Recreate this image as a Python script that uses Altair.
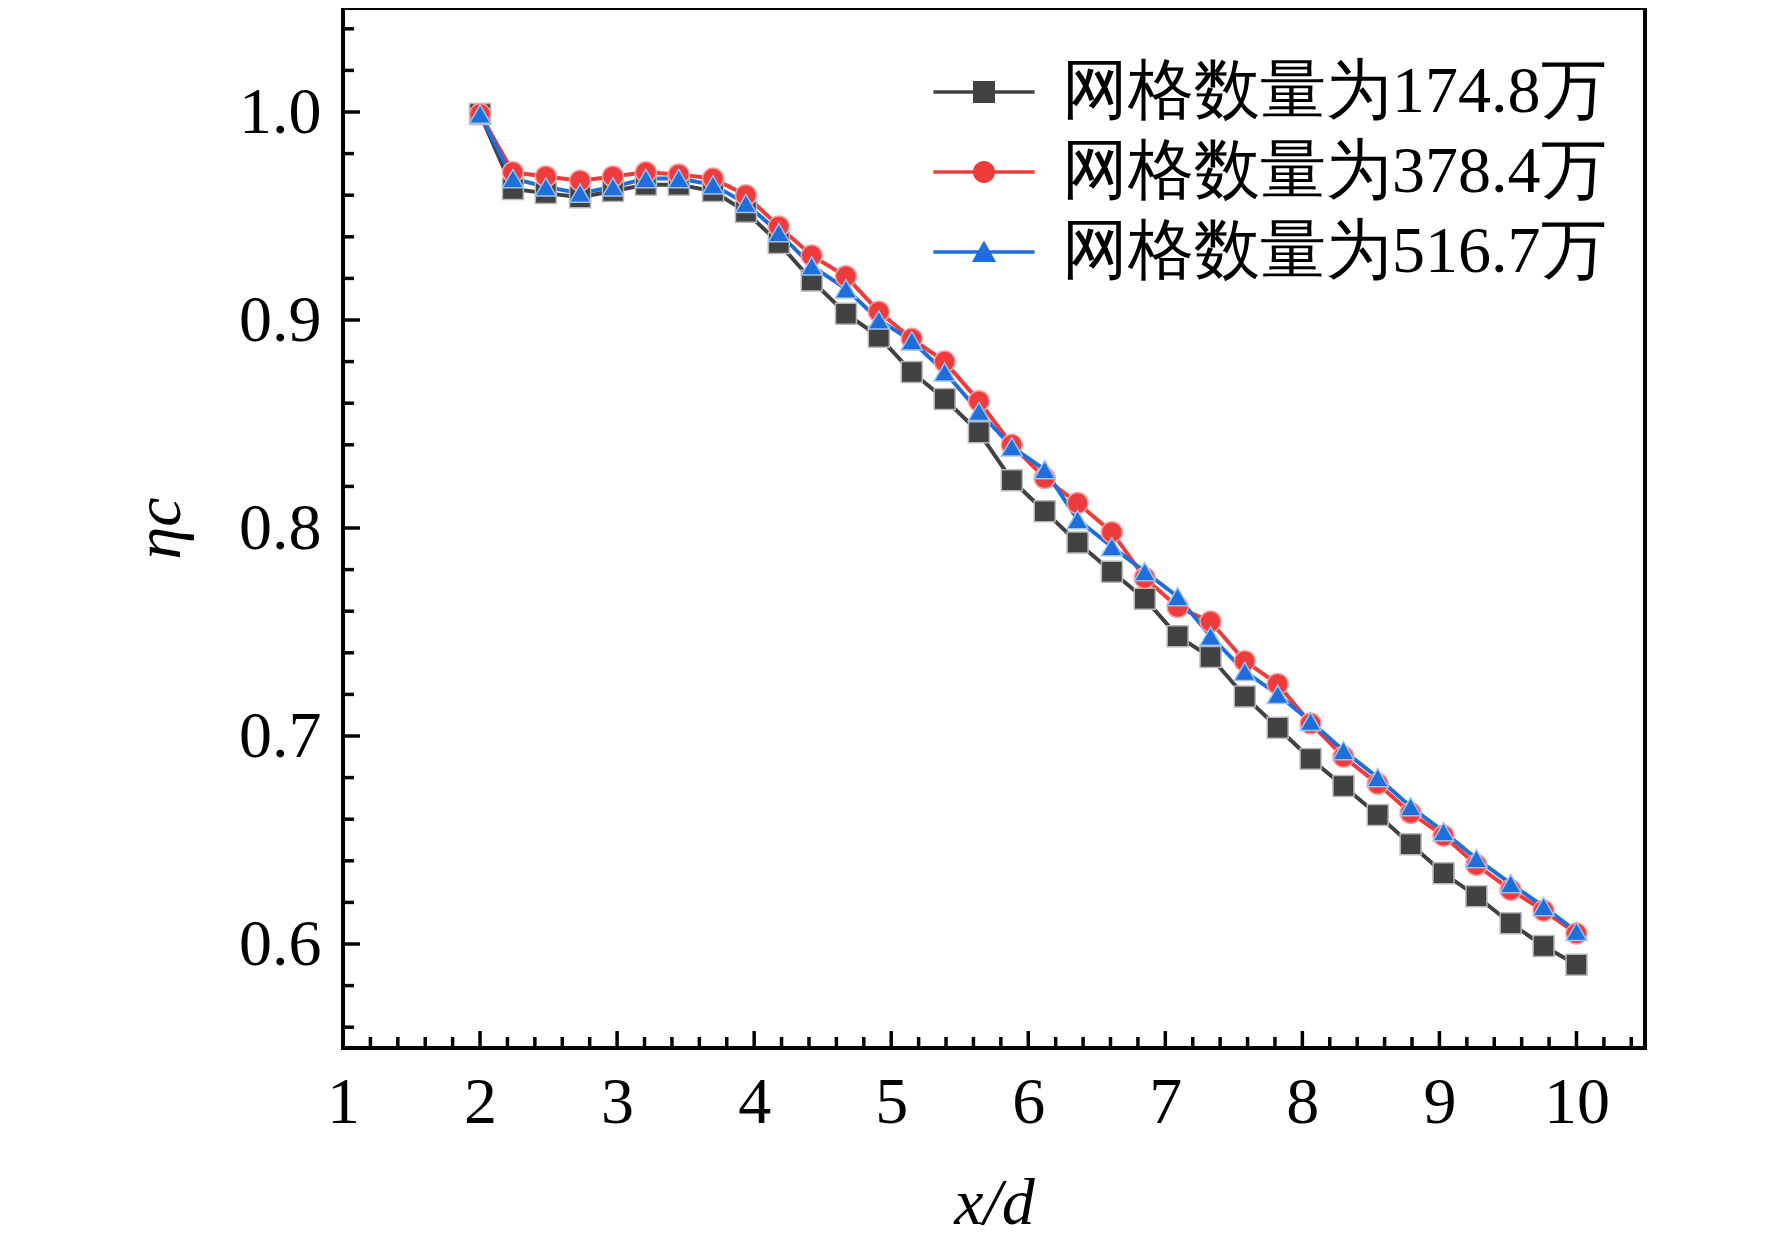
import altair as alt
import pandas as pd

# ---------------- data ----------------
x_pos = [2.00, 2.24, 2.48, 2.73, 2.97, 3.21, 3.45, 3.70, 3.94, 4.18, 4.42, 4.67,
         4.91, 5.15, 5.39, 5.64, 5.88, 6.12, 6.36, 6.61, 6.85, 7.09, 7.33, 7.58,
         7.82, 8.06, 8.30, 8.55, 8.79, 9.03, 9.27, 9.52, 9.76, 10.00]

eta_1748 = [0.999, 0.963, 0.961, 0.959, 0.962, 0.965, 0.965, 0.962, 0.952, 0.937,
            0.919, 0.903, 0.892, 0.875, 0.862, 0.846, 0.823, 0.808, 0.793, 0.779,
            0.766, 0.748, 0.738, 0.719, 0.704, 0.689, 0.676, 0.662, 0.648, 0.634,
            0.623, 0.610, 0.599, 0.590]

eta_3784 = [0.999, 0.971, 0.969, 0.967, 0.969, 0.971, 0.970, 0.968, 0.960, 0.945,
            0.931, 0.921, 0.904, 0.891, 0.880, 0.861, 0.840, 0.824, 0.812, 0.798,
            0.776, 0.762, 0.755, 0.736, 0.725, 0.706, 0.690, 0.677, 0.663, 0.652,
            0.638, 0.626, 0.616, 0.605]

eta_5167 = [0.999, 0.968, 0.964, 0.961, 0.964, 0.968, 0.968, 0.965, 0.956, 0.942,
            0.926, 0.915, 0.900, 0.890, 0.875, 0.856, 0.839, 0.828, 0.804, 0.791,
            0.779, 0.767, 0.748, 0.731, 0.720, 0.707, 0.693, 0.680, 0.666, 0.654,
            0.641, 0.629, 0.618, 0.606]

series_names = ["网格数量为174.8万", "网格数量为378.4万", "网格数量为516.7万"]

x_major = [1, 2, 3, 4, 5, 6, 7, 8, 9, 10]
x_minor = [1.2, 1.4, 1.6, 1.8, 2.2, 2.4, 2.6, 2.8, 3.2, 3.4, 3.6, 3.8,
           4.2, 4.4, 4.6, 4.8, 5.2, 5.4, 5.6, 5.8, 6.2, 6.4, 6.6, 6.8,
           7.2, 7.4, 7.6, 7.8, 8.2, 8.4, 8.6, 8.8, 9.2, 9.4, 9.6, 9.8,
           10.2, 10.4]
y_major = [0.6, 0.7, 0.8, 0.9, 1.0]
y_minor = [0.56, 0.58, 0.62, 0.64, 0.66, 0.68, 0.72, 0.74, 0.76, 0.78,
           0.82, 0.84, 0.86, 0.88, 0.92, 0.94, 0.96, 0.98, 1.02, 1.04]

# ---------------- styling ----------------
W, H = 1302, 1040
FONT = "Liberation Serif"
line_colors = ["#424242", "#ee3b3c", "#1f6fdb"]
halo_colors = ["#b8b8b8", "#f6a0a0", "#9cc2f2"]
point_shapes = ["square", "circle", "triangle-up"]
bar = "M-4.6,-0.16H4.6V0.16H-4.6Z"
legend_shapes = [
    bar + "M-1,-1H1V1H-1Z",
    bar + "M-1,0A1,1,0,1,1,1,0A1,1,0,1,1,-1,0Z",
    bar + "M0,-1.05L1.1,0.9L-1.1,0.9Z",
]

rows = []
for name, vals in zip(series_names, [eta_1748, eta_3784, eta_5167]):
    for xv, yv in zip(x_pos, vals):
        rows.append({"xd": xv, "eta": yv, "series": name})
df = pd.DataFrame(rows)

xscale = alt.Scale(domain=[1, 10.5], nice=False, zero=False)
yscale = alt.Scale(domain=[0.55, 1.05], nice=False, zero=False)

xaxis = alt.Axis(values=x_major, format="d", ticks=False, domain=False, grid=False,
                 labelFontSize=66, labelPadding=22, labelFlush=False, labelOverlap=False,
                 labelColor="black", labelFont=FONT,
                 title="x/d", titleFont=FONT, titleFontSize=66, titleFontStyle="italic",
                 titleFontWeight="normal", titleColor="black",
                 titleX=W / 2, titleY=155, titleAlign="center", titleBaseline="middle")
yaxis = alt.Axis(values=y_major, format=".1f", ticks=False, domain=False, grid=False,
                 labelFontSize=66, labelPadding=22, labelFlush=False, labelOverlap=False,
                 labelColor="black", labelFont=FONT,
                 title="ηc", titleFont=FONT, titleFontSize=66, titleFontStyle="italic",
                 titleFontWeight="normal", titleColor="black", titleAngle=270,
                 titleX=-184, titleY=H / 2, titleAlign="center", titleBaseline="middle")


def xenc():
    return alt.X("xd:Q", scale=xscale, axis=xaxis, title="x/d")


def yenc():
    return alt.Y("eta:Q", scale=yscale, axis=yaxis, title="ηc")


cscale = alt.Scale(domain=series_names, range=line_colors)

lines = alt.Chart(df).mark_line(strokeWidth=4).encode(
    x=xenc(), y=yenc(),
    color=alt.Color("series:N", scale=cscale, legend=None),
)

points = alt.Chart(df).mark_point(filled=True, opacity=1, size=440, strokeWidth=1.5).encode(
    x=xenc(), y=yenc(),
    color=alt.Color("series:N", scale=cscale, legend=None),
    stroke=alt.Stroke("series:N", scale=alt.Scale(domain=series_names, range=halo_colors), legend=None),
    shape=alt.Shape("series:N", scale=alt.Scale(domain=series_names, range=point_shapes), legend=None),
)

leg = dict(title=None, orient="none", legendX=608, legendY=51, padding=0,
           labelFont=FONT, labelFontSize=66, labelColor="black", labelLimit=0,
           labelOffset=45, rowPadding=14, symbolSize=484, symbolStrokeWidth=0,
           symbolOpacity=1, labelBaseline="middle")

legend_layer = alt.Chart(df).transform_filter("false").mark_point(
    filled=True, opacity=1, size=484, strokeWidth=0
).encode(
    x=xenc(), y=yenc(),
    color=alt.Color("series:N", scale=cscale, legend=alt.Legend(**leg)),
    shape=alt.Shape("series:N", scale=alt.Scale(domain=series_names, range=legend_shapes),
                    legend=alt.Legend(**leg)),
)

ymaj = alt.Chart(pd.DataFrame({"eta": y_major})).mark_rule(color="black", strokeWidth=3.5).encode(
    y=yenc(), x=alt.value(0), x2=alt.value(17))
ymin = alt.Chart(pd.DataFrame({"eta": y_minor})).mark_rule(color="black", strokeWidth=3.5).encode(
    y=yenc(), x=alt.value(0), x2=alt.value(11))
xmaj = alt.Chart(pd.DataFrame({"xd": x_major})).mark_rule(color="black", strokeWidth=3.5).encode(
    x=xenc(), y=alt.value(H), y2=alt.value(H - 17))
xmin = alt.Chart(pd.DataFrame({"xd": x_minor})).mark_rule(color="black", strokeWidth=3.5).encode(
    x=xenc(), y=alt.value(H), y2=alt.value(H - 11))

chart = alt.layer(lines, points, legend_layer, ymaj, ymin, xmaj, xmin).resolve_scale(
    color="independent", shape="independent", stroke="independent"
).properties(
    width=W, height=H,
    autosize=alt.AutoSizeParams(type="none"),
    padding={"left": 335, "top": 0, "right": 110, "bottom": 192},
    background="white",
).configure(font=FONT).configure_view(stroke="black", strokeWidth=4)

chart.save("out.html", embed_options={"renderer": "svg", "actions": False})
